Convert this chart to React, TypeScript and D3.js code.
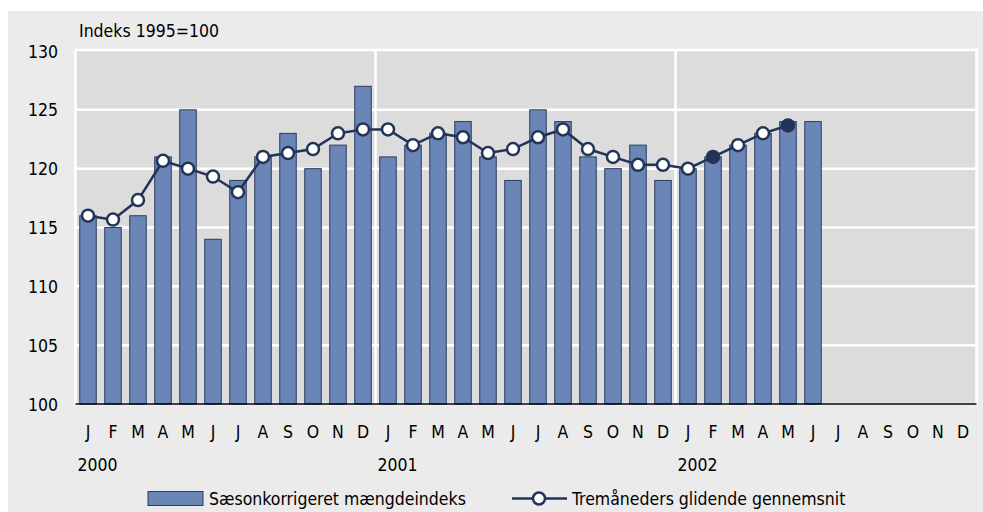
import React from "react";
import * as d3 from "d3";

const monthLabels = ["J","F","M","A","M","J","J","A","S","O","N","D"];
const years = ["2000", "2001", "2002"];
const barValues = [
  116, 115, 116, 121, 125, 114, 119, 121, 123, 120, 122, 127,
  121, 122, 123, 124, 121, 119, 125, 124, 121, 120, 122, 119,
  120, 121, 122, 123, 124, 124,
];
const avgValues = [
  116, 115.67, 117.33, 120.67, 120, 119.33, 118, 121, 121.33, 121.67, 123, 123.33,
  123.33, 122, 123, 122.67, 121.33, 121.67, 122.67, 123.33, 121.67, 121, 120.33, 120.33,
  120, 121, 122, 123, 123.67,
];
const filledMarkers = [25, 28];
const yTicks = [100, 105, 110, 115, 120, 125, 130];
const yAxisTitle = "Indeks 1995=100";
const legendBar = "Sæsonkorrigeret mængdeindeks";
const legendLine = "Tremåneders glidende gennemsnit";

const W = 983, H = 512;
const X0 = 75.5, X1 = 975.5, Y0 = 404, Y1 = 51;
const FONT = "'DejaVu Sans Condensed', 'DejaVu Sans', sans-serif";
const BAR_FILL = "#6a86b6";
const BAR_STROKE = "#2c3b5e";
const LINE = "#22345a";

export default function App() {
  const months = d3.range(36);
  const x = d3.scaleBand<number>().domain(months).range([X0, X1]).paddingInner(0.34).paddingOuter(0.17);
  const slot = d3.scaleBand<number>().domain(months).range([X0, X1]);
  const y = d3.scaleLinear().domain([100, 130]).range([Y0, Y1]);
  const cx = (i: number) => (slot(i) as number) + slot.bandwidth() / 2;
  const line = d3.line<number>().x((_, i) => cx(i)).y((v) => y(v));
  const fs = 17.5;

  return (
    <svg width={W} height={H} style={{ position: "absolute", left: 0, top: 0 }} fontFamily={FONT}>
      <rect x={8} y={11} width={W - 8} height={H - 11} fill="#ebebeb" />
      <rect x={X0} y={Y1 - 1} width={X1 - X0 + 1} height={Y0 - Y1 + 1} fill="#dcdcdc" stroke="#ffffff" strokeWidth={2.5} />
      {yTicks.slice(1, -1).map((t) => (
        <line key={t} x1={X0} x2={X1} y1={y(t)} y2={y(t)} stroke="#ffffff" strokeWidth={2.5} />
      ))}
      {[12, 24].map((i) => (
        <line key={i} x1={slot(i) as number} x2={slot(i) as number} y1={Y1} y2={Y0} stroke="#ffffff" strokeWidth={2.5} />
      ))}
      {barValues.map((v, i) => (
        <rect key={i} x={x(i)} y={y(v)} width={x.bandwidth()} height={Y0 - y(v)} fill={BAR_FILL} stroke={BAR_STROKE} strokeWidth={1} />
      ))}
      <line x1={X0} x2={X1 + 1} y1={Y0} y2={Y0} stroke="#000" strokeWidth={1.5} />
      <path d={line(avgValues) || ""} fill="none" stroke={LINE} strokeWidth={2.5} />
      {avgValues.map((v, i) => {
        const filled = filledMarkers.includes(i);
        return (
          <circle key={i} cx={cx(i)} cy={y(v)} r={6} fill={filled ? LINE : "#ffffff"} stroke={LINE} strokeWidth={2.5} />
        );
      })}
      {yTicks.map((t) => (
        <text key={t} x={58} y={y(t) + 6.5} textAnchor="end" fontSize={fs} fill="#000">{t}</text>
      ))}
      <text x={79} y={36.5} fontSize={fs} fill="#000">{yAxisTitle}</text>
      {months.map((i) => (
        <text key={i} x={cx(i)} y={438} textAnchor="middle" fontSize={fs} fill="#000">{monthLabels[i % 12]}</text>
      ))}
      {years.map((yr, k) => (
        <text key={yr} x={(slot(k * 12) as number) + 2} y={471} fontSize={fs} fill="#000">{yr}</text>
      ))}
      <rect x={148} y={491.5} width={55} height={14} fill={BAR_FILL} stroke={BAR_STROKE} strokeWidth={1} />
      <text x={209} y={505} fontSize={fs} fill="#000">{legendBar}</text>
      <line x1={512} x2={567} y1={498.5} y2={498.5} stroke={LINE} strokeWidth={2.5} />
      <circle cx={539} cy={498.5} r={6} fill="#ffffff" stroke={LINE} strokeWidth={2.5} />
      <text x={572} y={505} fontSize={fs} fill="#000">{legendLine}</text>
    </svg>
  );
}
